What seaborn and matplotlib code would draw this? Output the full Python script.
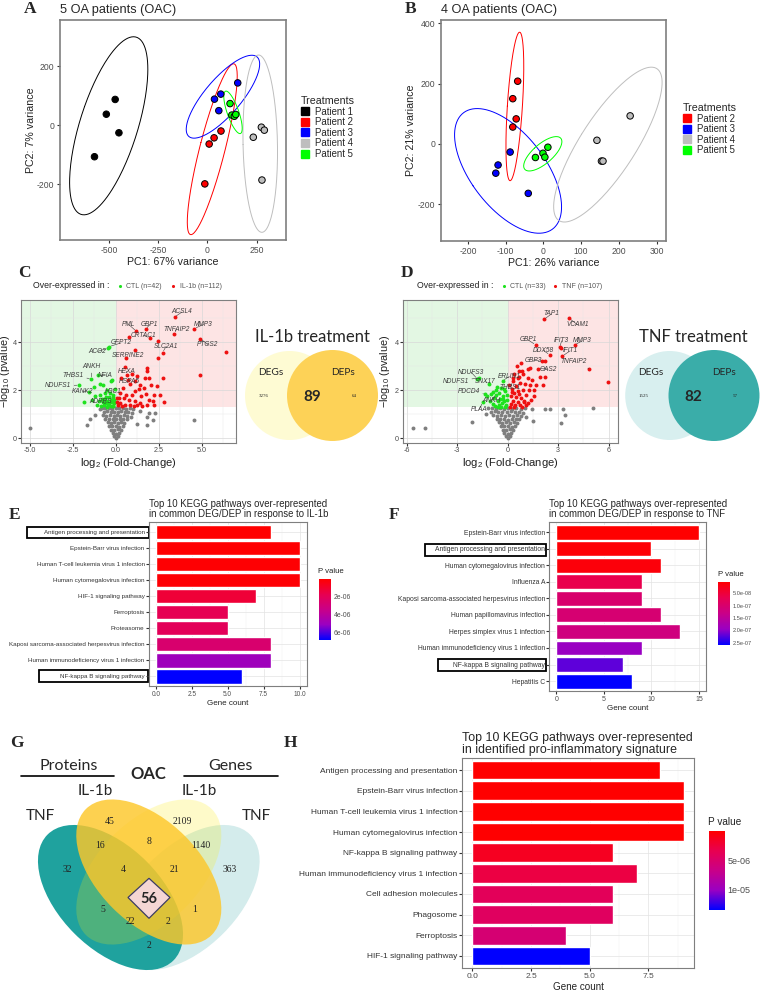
import numpy as np
import pandas as pd
import matplotlib
matplotlib.use('Agg')
import matplotlib.pyplot as plt
import seaborn as sns
from matplotlib.patches import Ellipse, Circle, Rectangle, Polygon
from matplotlib.lines import Line2D
from matplotlib.colors import LinearSegmentedColormap, Normalize
from matplotlib.cm import ScalarMappable

# ---------------- data ----------------
# A: PCA, 5 patients
a_patient = ['Patient 1'] * 4 + ['Patient 2'] * 4 + ['Patient 3'] * 4 + ['Patient 4'] * 4 + ['Patient 5'] * 4
a_pc1 = [-468, -513, -449, -573, 69, 34, 9, -13, 154, 68, 36, 58, 274, 289, 233, 277, 115, 124, 137, 144]
a_pc2 = [88, 38, -25, -106, -19, -42, -63, -198, 144, 106, 89, 50, -6, -16, -40, -185, 74, 35, 31, 37]
# B: PCA, 4 patients
b_patient = ['Patient 2'] * 4 + ['Patient 3'] * 4 + ['Patient 4'] * 4 + ['Patient 5'] * 4
b_pc1 = [-68, -81, -72, -81, -88, -120, -126, -40, 230, 142, 154, 158, 12, -1, 4, -21]
b_pc2 = [208, 150, 83, 56, -27, -70, -97, -164, 93, 12, -57, -57, -11, -31, -44, -45]
patient_colors = {'Patient 1': '#000000', 'Patient 2': '#FF0000', 'Patient 3': '#0000FF',
                  'Patient 4': '#BEBEBE', 'Patient 5': '#00FF00'}

# C: volcano IL-1b (log2FC, -log10 p)
c_green = [(-0.39, 3.82), (-0.45, 3.75), (-1.43, 2.47), (-1.07, 2.62), (-2.15, 2.21), (-1.59, 1.92),
           (-1.86, 1.51), (-0.74, 2.21), (-0.21, 2.44), (-0.50, 2.00), (-0.90, 1.80), (-0.60, 1.70),
           (-0.30, 1.60), (-0.40, 1.45), (-0.70, 1.40), (-0.20, 1.35), (-1.20, 1.75), (-1.00, 1.55),
           (-0.55, 1.55), (-0.80, 1.62), (-0.35, 1.90), (-0.15, 1.70), (-0.25, 1.50), (-0.45, 1.38),
           (-0.65, 1.90), (-1.30, 2.15), (-0.95, 2.25), (-0.10, 1.45), (-0.05, 2.05), (-0.30, 2.40),
           (-0.75, 1.50), (-0.50, 1.32), (-0.15, 1.33), (-1.10, 1.40), (-0.85, 1.35), (-0.40, 1.70),
           (-0.60, 1.45), (-0.20, 1.80), (-1.40, 1.60), (-0.30, 1.35), (-0.70, 1.62), (-0.10, 1.60)]
c_red = [(3.41, 5.05), (4.55, 4.57), (1.18, 4.46), (1.74, 4.54), (3.39, 4.36), (0.78, 4.21), (1.98, 4.18),
         (4.90, 4.15), (2.44, 4.07), (2.71, 3.57), (6.41, 3.61), (1.09, 3.68), (0.56, 3.33), (2.44, 3.35),
         (4.88, 2.64), (2.73, 2.51), (1.80, 2.93), (1.90, 2.51), (1.71, 2.51), (1.22, 2.58), (1.12, 2.37),
         (0.64, 2.65), (0.83, 2.24), (1.41, 2.21), (2.05, 2.21), (2.38, 2.17), (1.12, 1.96), (1.76, 1.85),
         (2.19, 1.82), (2.58, 1.82), (0.25, 1.89), (0.45, 1.68), (0.74, 1.61), (1.12, 1.54), (1.41, 1.47),
         (1.90, 1.61), (0.25, 1.47), (0.54, 1.40), (0.83, 1.37), (0.10, 1.37), (1.22, 1.40), (1.80, 1.40),
         (2.13, 1.54), (0.41, 2.10), (0.16, 1.68), (0.60, 1.79), (0.93, 1.82), (1.45, 1.75), (1.32, 2.03),
         (1.65, 2.10), (0.68, 2.44), (0.93, 2.68), (0.54, 2.96), (1.80, 2.82), (0.29, 2.51), (0.06, 1.68),
         (0.06, 1.51), (0.35, 1.33), (1.03, 1.33), (1.51, 1.33), (2.19, 1.37), (2.77, 1.51)]
c_grey = [(-4.98, 0.43), (4.52, 0.74), (1.92, 1.05), (2.27, 1.03), (1.82, 0.87), (2.13, 0.74), (1.78, 0.55),
          (1.22, 0.61), (-1.49, 0.78), (-1.69, 0.57), (-1.20, 0.95), (1.40, 1.15), (-0.90, 1.20),
          (-0.82, 1.26), (-0.63, 1.24), (-0.41, 1.27), (-0.22, 1.23), (0.02, 1.26), (0.19, 1.24), (0.41, 1.27),
          (0.58, 1.23), (0.79, 1.26), (1.01, 1.21), (-0.71, 1.10), (-0.52, 1.12), (-0.31, 1.09), (-0.12, 1.11),
          (0.11, 1.08), (0.29, 1.12), (0.52, 1.09), (0.68, 1.11), (0.92, 1.05), (-0.77, 0.96), (-0.56, 0.94),
          (-0.36, 0.97), (-0.14, 0.93), (0.04, 0.96), (0.26, 0.94), (0.44, 0.97), (0.66, 0.93), (0.86, 0.90),
          (-0.61, 0.81), (-0.42, 0.79), (-0.19, 0.82), (0.01, 0.78), (0.21, 0.81), (0.39, 0.79), (0.62, 0.80),
          (-0.49, 0.66), (-0.31, 0.64), (-0.09, 0.67), (0.12, 0.63), (0.31, 0.66), (0.48, 0.64),
          (-0.41, 0.51), (-0.21, 0.49), (0.02, 0.52), (0.19, 0.48), (0.38, 0.51), (-0.29, 0.36), (-0.11, 0.34),
          (0.09, 0.37), (0.28, 0.35), (-0.19, 0.21), (0.01, 0.19), (0.18, 0.22), (-0.09, 0.08), (0.11, 0.09),
          (0.00, 0.02)]
c_labels = [('ACSL4', 3.41, 5.05, 3.84, 5.26), ('PML', 1.18, 4.46, 0.74, 4.74), ('GBP1', 1.74, 4.54, 1.96, 4.74),
            ('MMP3', 4.55, 4.57, 5.10, 4.74), ('TNFAIP2', 3.39, 4.36, 3.51, 4.53),
            ('CRTAC1', 1.98, 4.18, 1.61, 4.28), ('SLC2A1', 2.71, 3.57, 2.91, 3.82),
            ('PTGS2', 4.90, 4.15, 5.35, 3.90), ('GFPT2', -0.39, 3.82, 0.29, 3.97),
            ('ACO2', -0.45, 3.75, -1.07, 3.62), ('SERPINE2', 0.56, 3.33, 0.68, 3.44),
            ('ANKH', -1.43, 2.47, -1.43, 3.00), ('HEXA', 0.64, 2.65, 0.60, 2.79),
            ('THBS1', -1.43, 2.47, -2.50, 2.61), ('NFIA', -1.07, 2.62, -0.62, 2.61),
            ('HSPA5', 0.68, 2.44, 0.80, 2.37), ('NDUFS1', -2.15, 2.21, -3.39, 2.19),
            ('KANK2', -1.59, 1.92, -1.92, 1.96), ('H3C1', -0.05, 2.05, -0.14, 1.93),
            ('ADPRS', -0.50, 1.40, -0.91, 1.54)]

# D: volcano TNF
d_green = [(-1.81, 2.48), (-1.68, 2.53), (-1.12, 2.26), (-1.32, 1.85), (-1.48, 1.50), (-0.30, 2.40),
           (-0.69, 2.03), (-0.49, 1.89), (-0.79, 1.68), (-0.30, 1.75), (-0.59, 1.54), (-0.20, 1.54),
           (-0.89, 1.43), (-0.49, 1.37), (-0.10, 1.37), (-0.39, 2.10), (-0.14, 1.96), (-0.69, 1.82),
           (-0.99, 1.85), (-1.24, 1.75), (-0.26, 1.64), (-0.06, 1.61), (-0.57, 1.29), (-0.35, 1.45),
           (-0.75, 1.35), (-0.15, 1.31), (-0.45, 1.62), (-0.62, 2.15), (-0.20, 2.05), (-1.05, 1.55),
           (-0.40, 1.32), (-0.85, 1.95), (-0.05, 1.80)]
d_red = [(2.15, 4.96), (3.67, 5.00), (1.66, 3.90), (3.08, 3.79), (3.16, 3.76), (3.98, 3.90), (2.50, 3.48),
         (3.25, 3.43), (2.01, 3.21), (2.23, 3.21), (4.81, 2.91), (1.83, 2.91), (1.89, 2.57), (2.21, 2.55),
         (5.94, 2.36), (1.32, 2.93), (0.85, 2.82), (0.69, 2.54), (0.69, 2.82), (0.39, 2.68), (0.89, 2.68),
         (0.59, 2.51), (1.18, 2.51), (1.44, 2.44), (0.30, 2.37), (0.73, 2.30), (1.05, 2.26), (1.32, 2.23),
         (1.68, 2.21), (2.07, 2.21), (0.49, 2.17), (0.26, 2.07), (0.89, 2.03), (1.24, 2.03), (1.58, 2.03),
         (0.39, 1.89), (0.69, 1.85), (1.08, 1.82), (0.20, 1.75), (0.49, 1.71), (0.79, 1.68), (0.30, 1.57),
         (0.59, 1.51), (0.99, 1.54), (0.20, 1.43), (0.45, 1.37), (0.73, 1.40), (1.08, 1.37), (0.14, 1.29),
         (1.38, 1.61), (1.58, 1.75), (0.10, 2.24), (0.33, 2.51), (0.53, 3.00), (0.79, 3.14), (1.18, 2.90),
         (0.25, 1.95), (0.60, 1.98), (0.95, 1.50), (0.35, 1.32), (0.85, 1.31), (1.20, 1.45)]
d_grey = [(-5.62, 0.43), (-4.89, 0.43), (-2.09, 0.69), (5.07, 1.25), (3.29, 1.22), (2.21, 1.22), (2.50, 1.22),
          (3.39, 0.99), (3.16, 0.65), (1.44, 1.22), (1.48, 0.71), (1.10, 0.90), (-1.30, 1.00),
          (-1.18, 1.25), (-0.95, 1.27), (-0.71, 1.24), (-0.48, 1.26), (-0.22, 1.23), (0.03, 1.27), (0.27, 1.24),
          (0.52, 1.26), (0.78, 1.23), (1.05, 1.25), (-1.02, 1.10), (-0.78, 1.12), (-0.55, 1.09), (-0.31, 1.11),
          (-0.07, 1.08), (0.18, 1.12), (0.42, 1.09), (0.66, 1.11), (0.88, 1.07), (-0.85, 0.96), (-0.62, 0.94),
          (-0.38, 0.97), (-0.14, 0.93), (0.09, 0.96), (0.33, 0.94), (0.57, 0.97), (0.79, 0.93),
          (-0.66, 0.81), (-0.44, 0.79), (-0.21, 0.82), (0.02, 0.78), (0.25, 0.81), (0.48, 0.79), (0.68, 0.80),
          (-0.52, 0.66), (-0.31, 0.64), (-0.08, 0.67), (0.14, 0.63), (0.36, 0.66), (0.55, 0.64),
          (-0.41, 0.51), (-0.19, 0.49), (0.03, 0.52), (0.24, 0.48), (0.43, 0.51), (-0.29, 0.36), (-0.09, 0.34),
          (0.12, 0.37), (0.31, 0.35), (-0.19, 0.21), (0.01, 0.19), (0.20, 0.22), (-0.09, 0.08), (0.11, 0.09),
          (0.00, 0.02)]
d_labels = [('TAP1', 2.15, 4.96, 2.60, 5.19), ('VCAM1', 3.67, 5.00, 4.16, 4.73), ('GBP1', 1.66, 3.90, 1.20, 4.11),
            ('IFIT3', 3.08, 3.79, 3.21, 4.07), ('MMP3', 3.98, 3.90, 4.44, 4.07),
            ('DDX58', 2.50, 3.48, 2.11, 3.67), ('IFIT1', 3.25, 3.43, 3.71, 3.65),
            ('GBP3', 2.01, 3.21, 1.54, 3.26), ('TNFAIP2', 4.81, 2.91, 3.94, 3.21),
            ('OAS2', 1.83, 2.91, 2.39, 2.89), ('NDUFS3', -1.81, 2.48, -2.17, 2.76),
            ('ERLIN1', -0.30, 2.40, 0.10, 2.58), ('NDUFS1', -1.68, 2.53, -3.10, 2.36),
            ('SNX17', -1.12, 2.26, -1.32, 2.36), ('THBS1', 0.30, 2.37, 0.16, 2.12),
            ('PDCD4', -1.32, 1.85, -2.33, 1.96), ('ANKH', -0.69, 1.82, -0.99, 1.58),
            ('PLAA', -1.48, 1.50, -1.68, 1.22)]

# Venn counts (C, D)
c_venn = ['3276', '89', '64']
d_venn = ['1525', '82', '57']

# E / F / H: KEGG enrichment
e_paths = ['Antigen processing and presentation', 'Epstein-Barr virus infection',
           'Human T-cell leukemia virus 1 infection', 'Human cytomegalovirus infection',
           'HIF-1 signaling pathway', 'Ferroptosis', 'Proteasome',
           'Kaposi sarcoma-associated herpesvirus infection', 'Human immunodeficiency virus 1 infection',
           'NF-kappa B signaling pathway']
e_count = [8, 10, 10, 10, 7, 5, 5, 8, 8, 6]
e_pval = [2e-8, 5e-8, 8e-8, 1.0e-7, 1.2e-6, 1.8e-6, 2.0e-6, 2.6e-6, 4.9e-6, 6.8e-6]

f_paths = ['Epstein-Barr virus infection', 'Antigen processing and presentation',
           'Human cytomegalovirus infection', 'Influenza A', 'Kaposi sarcoma-associated herpesvirus infection',
           'Human papillomavirus infection', 'Herpes simplex virus 1 infection',
           'Human immunodeficiency virus 1 infection', 'NF-kappa B signaling pathway', 'Hepatitis C']
f_count = [15, 10, 11, 9, 9, 11, 13, 9, 7, 8]
f_pval = [3e-9, 8e-9, 1.2e-8, 6.5e-8, 1.0e-7, 1.05e-7, 1.2e-7, 1.95e-7, 2.2e-7, 2.6e-7]

h_paths = ['Antigen processing and presentation', 'Epstein-Barr virus infection',
           'Human T-cell leukemia virus 1 infection', 'Human cytomegalovirus infection',
           'NF-kappa B signaling pathway', 'Human immunodeficiency virus 1 infection',
           'Cell adhesion molecules', 'Phagosome', 'Ferroptosis', 'HIF-1 signaling pathway']
h_count = [8, 9, 9, 9, 6, 7, 6, 6, 4, 5]
h_pval = [3e-8, 5e-8, 7e-8, 9e-8, 1.4e-6, 2.8e-6, 3.9e-6, 4.3e-6, 5.4e-6, 1.34e-5]

# G: 4-set Venn counts
g_counts = ['45', '2109', '16', '8', '1140', '32', '4', '21', '363', '5', '1', '22', '2', '2']
g_core = '56'

# ---------------- style ----------------
sns.set_style('white')
plt.rcParams['font.family'] = ['Liberation Sans', 'DejaVu Sans']
plt.rcParams['mathtext.fontset'] = 'custom'
plt.rcParams['mathtext.rm'] = 'Liberation Sans'
plt.rcParams['mathtext.it'] = 'Liberation Sans:italic'
plt.rcParams['axes.unicode_minus'] = False

W, H = 760, 992
fig = plt.figure(figsize=(7.6, 9.92), dpi=100)
canvas = fig.add_axes([0, 0, 1, 1])
canvas.set_xlim(0, W)
canvas.set_ylim(H, 0)
canvas.axis('off')


def add_ax(x0, y0, x1, y1):
    return fig.add_axes([x0 / W, 1 - y1 / H, (x1 - x0) / W, (y1 - y0) / H])


def letter(x, y, s):
    canvas.text(x, y, s, ha='center', va='center', fontsize=12.5, fontweight='bold',
                family='Liberation Serif')


pcmap = LinearSegmentedColormap.from_list('pval', ['#FF0000', '#E80050', '#C90088', '#9A00C2', '#0000FF'])
theta = np.linspace(0, 2 * np.pi, 200)


def ell_xy(x, y, scale=3.6):
    x = np.asarray(x, float)
    y = np.asarray(y, float)
    vals, vecs = np.linalg.eigh(np.cov(x, y))
    circ = np.vstack([np.cos(theta), np.sin(theta)])
    pts = vecs @ (np.sqrt(vals)[:, None] * circ) * scale
    return pts[0] + x.mean(), pts[1] + y.mean()


def pca_panel(rect, patient, pc1, pc2, xlim, ylim, xticks, yticks, xlabel, ylabel, title, leg_xy):
    ax = add_ax(*rect)
    df = pd.DataFrame({'Patient': patient, 'PC1': pc1, 'PC2': pc2})
    levels = list(dict.fromkeys(patient))
    for p in levels:
        sub = df[df.Patient == p]
        ex, ey = ell_xy(sub.PC1, sub.PC2)
        ax.plot(ex, ey, color=patient_colors[p], lw=0.7, zorder=2)
    sns.scatterplot(data=df, x='PC1', y='PC2', hue='Patient', palette=patient_colors, s=22,
                    edgecolor='black', linewidth=0.7, legend=False, ax=ax, zorder=3)
    ax.set_xlim(xlim)
    ax.set_ylim(ylim)
    ax.set_xticks(xticks)
    ax.set_yticks(yticks)
    ax.set_xlabel(xlabel, fontsize=7.7, color='#222222', labelpad=2)
    ax.set_ylabel(ylabel, fontsize=7.7, color='#222222', labelpad=1)
    ax.set_title(title, loc='left', fontsize=9.2, pad=5)
    ax.tick_params(labelsize=6.2, labelcolor='#4D4D4D', length=2.5, color='#333333', pad=1.5,
                   bottom=True, left=True)
    for s in ax.spines.values():
        s.set_color('#7F7F7F')
        s.set_linewidth(1.2)
    handles = [Line2D([], [], marker='s', ls='', markersize=5.5, markerfacecolor=patient_colors[p],
                      markeredgecolor=patient_colors[p]) for p in levels]
    ax.legend(handles, levels, title='Treatments', loc='upper left',
              bbox_to_anchor=(leg_xy[0] / W, 1 - leg_xy[1] / H), bbox_transform=fig.transFigure,
              frameon=False, fontsize=6.9, title_fontsize=7.7, handlelength=0.9, handletextpad=0.6,
              labelspacing=0.06, borderpad=0, borderaxespad=0, alignment='left')
    return ax


def volcano(rect, grey, green, red, labels, xlim, xticks, xticklabels, xminor, ylab_x):
    ax = add_ax(*rect)
    top = 5.76
    ax.fill_between([xlim[0], 0], 1.301, top, color='#E3F7E3', lw=0, zorder=0)
    ax.fill_between([0, xlim[1]], 1.301, top, color='#FDE4E4', lw=0, zorder=0)
    for pts, col in [(grey, '#7F7F7F'), (green, '#1EE21E'), (red, '#EE1111')]:
        arr = np.array(pts)
        sns.scatterplot(x=arr[:, 0], y=arr[:, 1], color=col, s=8, linewidth=0, ax=ax, zorder=2)
    for name, px, py, tx, ty in labels:
        ax.annotate(name, xy=(px, py), xytext=(tx, ty), fontsize=4.7, style='italic', color='#3A3A3A',
                    ha='center', va='center', zorder=4,
                    arrowprops=dict(arrowstyle='-', color='#3A3A3A', lw=0.4, shrinkA=0, shrinkB=1.5))
    ax.set_xlim(xlim)
    ax.set_ylim(-0.2, top)
    ax.set_xticks(xticks)
    ax.set_xticklabels(xticklabels)
    ax.set_xticks(xminor, minor=True)
    ax.set_yticks([0, 2, 4])
    ax.set_yticks([1, 3, 5], minor=True)
    ax.set_axisbelow(True)
    ax.grid(which='major', color='#D8D8D8', lw=0.5)
    ax.grid(which='minor', color='#E6E6E6', lw=0.3)
    ax.tick_params(which='major', labelsize=5.2, labelcolor='#4D4D4D', length=2, color='#333333', pad=1,
                   bottom=True, left=True)
    ax.tick_params(which='minor', length=0)
    ax.set_xlabel(r'log$_2$ (Fold-Change)', fontsize=8.1, color='#222222', labelpad=1.5)
    ax.set_ylabel(r'$-$log$_{10}$ (pvalue)', fontsize=7.8, color='#222222')
    ax.yaxis.set_label_coords((ylab_x - rect[0]) / (rect[2] - rect[0]), 0.5)
    for s in ax.spines.values():
        s.set_color('#7F7F7F')
        s.set_linewidth(0.8)
    return ax


def kegg_bar(rect, paths, counts, pvals, xlim, xticks, xticklabels, xminor, title, fs, cax_rect,
             cticks, ctick_labels, ctitle_xy):
    ax = add_ax(*rect)
    norm = Normalize(min(pvals), max(pvals))
    cols = [pcmap(norm(p)) for p in pvals]
    df = pd.DataFrame({'path': paths, 'count': counts})
    sns.barplot(data=df, x='count', y='path', hue='path', palette=cols, width=0.9, saturation=1,
                legend=False, ax=ax, zorder=2)
    ax.set_xlim(xlim)
    ax.set_ylim(len(paths) - 0.4, -0.6)
    ax.set_xticks(xticks)
    ax.set_xticklabels(xticklabels)
    ax.set_xticks(xminor, minor=True)
    ax.set_axisbelow(True)
    ax.grid(which='major', color='#E3E3E3', lw=0.5)
    ax.grid(which='minor', axis='x', color='#EEEEEE', lw=0.3)
    ax.tick_params(axis='y', labelsize=fs['ylab'], labelcolor='#333333', length=2, color='#333333', pad=1,
                   left=True)
    ax.tick_params(axis='x', which='major', labelsize=fs['tick'], labelcolor='#4D4D4D', length=2,
                   color='#333333', pad=1.5, bottom=True)
    ax.tick_params(axis='x', which='minor', length=0)
    ax.set_ylabel('')
    ax.set_xlabel('Gene count', fontsize=fs['xlab'], color='#222222', labelpad=1.5)
    ax.set_title(title, loc='left', fontsize=fs['title'], pad=3.5, linespacing=1.0)
    for s in ax.spines.values():
        s.set_color('#7F7F7F')
        s.set_linewidth(0.8)
    cax = add_ax(*cax_rect)
    cb = fig.colorbar(ScalarMappable(norm=norm, cmap=pcmap), cax=cax)
    cax.invert_yaxis()
    cb.outline.set_visible(False)
    cb.set_ticks(cticks)
    cb.set_ticklabels(ctick_labels)
    cb.minorticks_off()
    cax.tick_params(direction='in', color='white', length=2.5, width=0.6, left=True, right=True,
                    labelsize=fs['cb'], labelcolor='#4D4D4D', pad=2)
    canvas.text(ctitle_xy[0], ctitle_xy[1], 'P value', fontsize=fs['ctitle'], va='center', ha='left',
                color='#222222')
    return ax


# ---------------- A / B ----------------
pca_panel((60, 20, 286, 240), a_patient, a_pc1, a_pc2, (-748, 399), (-388, 357),
          [-500, -250, 0, 250], [-200, 0, 200], 'PC1: 67% variance', 'PC2: 7% variance',
          '5 OA patients (OAC)', (301, 96))
pca_panel((440.7, 20, 666, 241), b_patient, b_pc1, b_pc2, (-272, 325), (-322, 411),
          [-200, -100, 0, 100, 200, 300], [-200, 0, 200, 400], 'PC1: 26% variance', 'PC2: 21% variance',
          '4 OA patients (OAC)', (683, 103))
letter(30, 9, 'A')
letter(411, 9, 'B')

# ---------------- C / D ----------------
volcano((20.7, 300, 236, 443), c_grey, c_green, c_red, c_labels, (-5.54, 6.98),
        [-5, -2.5, 0, 2.5, 5], ['-5.0', '-2.5', '0.0', '2.5', '5.0'], [-3.75, -1.25, 1.25, 3.75, 6.25], 12.5)
volcano((403.3, 300.3, 618.3, 443), d_grey, d_green, d_red, d_labels, (-6.2, 6.57),
        [-6, -3, 0, 3, 6], ['-6', '-3', '0', '3', '6'], [-4.5, -1.5, 1.5, 4.5], 392.5)
letter(24, 273, 'C')
letter(407, 273, 'D')

for x0, n_ctl, n_trt, trt in [(33, 'CTL (n=42)', 'IL-1b (n=112)', 0), (416.7, 'CTL (n=33)', 'TNF (n=107)', 1)]:
    canvas.text(x0, 286, 'Over-expressed in :', fontsize=6.3, va='center', ha='left', color='#222222')
    canvas.scatter([x0 + 87], [286], s=5, color='#1EE21E', lw=0)
    canvas.text(x0 + 93, 286, n_ctl, fontsize=5, va='center', ha='left', color='#555555')
    canvas.scatter([x0 + 139.5 - trt * 1], [286], s=5, color='#EE1111', lw=0)
    canvas.text(x0 + 147.5 - trt * 2, 286, n_trt, fontsize=5, va='center', ha='left', color='#555555')
canvas.text(49.3, 318, 'OAC', fontsize=12.5, family='Lato', ha='center', va='center')
canvas.text(428.3, 318, 'OAC', fontsize=12.5, family='Lato', ha='center', va='center')

# small two-set Venn diagrams
for (cx1, cx2, c1, c2, ttl, nums) in [(289.5, 332.5, '#FEFBD3', '#FDD257', 'IL-1b treatment', c_venn),
                                      (669.7, 714, '#D8EFEF', '#3AADA9', 'TNF treatment', d_venn)]:
    canvas.add_patch(Circle((cx1, 395.5), 44.5, color=c1, lw=0))
    canvas.add_patch(Circle((cx2, 395.5), 45.5, color=c2, lw=0))
    mid = (cx1 + cx2) / 2
    canvas.text(mid + 1, 336.7, ttl, fontsize=12, family='Lato', ha='center', va='center')
    canvas.text(cx1 - 19, 372.7, 'DEGs', fontsize=7.3, family='Lato', ha='center', va='center')
    canvas.text(cx2 + 10, 372.7, 'DEPs', fontsize=7.3, family='Lato', ha='center', va='center')
    canvas.text(cx1 - 26, 396, nums[0], fontsize=3.6, family='Liberation Serif', ha='center', va='center')
    canvas.text(mid + 1.5, 396.7, nums[1], fontsize=11, family='Lato', fontweight='bold', ha='center',
                va='center')
    canvas.text(cx2 + 21.5, 396, nums[2], fontsize=3.6, family='Liberation Serif', ha='center', va='center')

# ---------------- E / F / H ----------------
fs_e = dict(ylab=4.5, tick=4.7, xlab=5.8, title=6.9, cb=4.9, ctitle=5.6)
kegg_bar((148.7, 522.3, 306.7, 686), e_paths, e_count, e_pval, (-0.5, 10.5), [0, 2.5, 5, 7.5, 10],
         ['0.0', '2.5', '5.0', '7.5', '10.0'], [1.25, 3.75, 6.25, 8.75],
         'Top 10 KEGG pathways over-represented\nin common DEG/DEP in response to IL-1b', fs_e,
         (319.3, 579, 330.7, 640), [2e-6, 4e-6, 6e-6], ['2e-06', '4e-06', '6e-06'], (318.5, 571.5))
fs_f = dict(ylab=4.9, tick=5, xlab=5.8, title=6.9, cb=4.1, ctitle=5.6)
kegg_bar((549.3, 522.3, 706, 691), f_paths, f_count, f_pval, (-0.75, 15.75), [0, 5, 10, 15],
         ['0', '5', '10', '15'], [2.5, 7.5, 12.5],
         'Top 10 KEGG pathways over-represented\nin common DEG/DEP in response to TNF', fs_f,
         (718.3, 581.7, 730, 645), [5e-8, 1e-7, 1.5e-7, 2e-7, 2.5e-7],
         ['5.0e-08', '1.0e-07', '1.5e-07', '2.0e-07', '2.5e-07'], (718, 574.3))
fs_h = dict(ylab=6.0, tick=6.0, xlab=7.1, title=8.9, cb=6.5, ctitle=7.2)
kegg_bar((461.7, 757.7, 694.3, 968.3), h_paths, h_count, h_pval, (-0.45, 9.45), [0, 2.5, 5, 7.5],
         ['0.0', '2.5', '5.0', '7.5'], [1.25, 3.75, 6.25, 8.75],
         'Top 10 KEGG pathways over-represented\nin identified pro-inflammatory signature', fs_h,
         (709.3, 831, 725, 910), [5e-6, 1e-5], ['5e-06', '1e-05'], (708.5, 822.3))
letter(15, 515, 'E')
letter(394, 515, 'F')
letter(290, 743, 'H')

for (x0, y0, x1, y1) in [(26.7, 526.7, 148.7, 538.3), (39.3, 670, 147.7, 682.3),
                         (425, 544, 546, 555.7), (438.3, 659.3, 546, 671)]:
    canvas.add_patch(Rectangle((x0, y0), x1 - x0, y1 - y0, fill=False, ec='black', lw=1.3))

# ---------------- G ----------------
letter(16.7, 743, 'G')
a_ax, b_ax = 89, 51
canvas.add_patch(Ellipse((187.1, 897.5), 2 * a_ax, 2 * b_ax, angle=-45, color='#D4ECEC', lw=0))
canvas.add_patch(Ellipse((110.5, 897.5), 2 * a_ax, 2 * b_ax, angle=45, color='#1FA29E', lw=0))
canvas.add_patch(Ellipse((148.8, 872), 2 * a_ax, 2 * b_ax, angle=-45, color='#FEEC03', alpha=0.21, lw=0))
canvas.add_patch(Ellipse((148.8, 872), 2 * a_ax, 2 * b_ax, angle=45, color='#FDC72A', alpha=0.82, lw=0))
canvas.add_patch(Polygon([(149, 878.3), (170, 897.5), (149, 918.3), (128, 897.5)], closed=True,
                         fc='#F5D6D4', ec='#3C3C64', lw=0.9))
g_pos = [(110, 821), (182.7, 821), (100, 846), (149, 841), (200.7, 846), (67.3, 869.3), (123.3, 869.3),
         (174, 869.3), (230, 869.3), (102.7, 910), (195, 910), (130, 922), (167.7, 922), (149, 946)]
for (x, y), s in zip(g_pos, g_counts):
    canvas.text(x, y, s, fontsize=7, family='Liberation Serif', ha='center', va='center', color='#222222')
canvas.text(149, 899.3, g_core, fontsize=10.5, family='Lato', fontweight='bold', ha='center', va='center')
canvas.text(68.3, 766, 'Proteins', fontsize=11.5, family='Lato', ha='center', va='center')
canvas.text(230.7, 766, 'Genes', fontsize=11.5, family='Lato', ha='center', va='center')
canvas.plot([20.7, 114.3], [775.5, 775.5], color='black', lw=1.2)
canvas.plot([183.7, 277.7], [775.5, 775.5], color='black', lw=1.2)
canvas.text(148.7, 774, 'OAC', fontsize=12, family='Lato', fontweight='bold', ha='center', va='center')
canvas.text(95, 790.7, 'IL-1b', fontsize=11, family='Lato', ha='center', va='center')
canvas.text(199, 790.7, 'IL-1b', fontsize=11, family='Lato', ha='center', va='center')
canvas.text(40.7, 816, 'TNF', fontsize=11, family='Lato', ha='center', va='center')
canvas.text(256.7, 816, 'TNF', fontsize=11, family='Lato', ha='center', va='center')

fig.savefig('out.png', dpi=100)
